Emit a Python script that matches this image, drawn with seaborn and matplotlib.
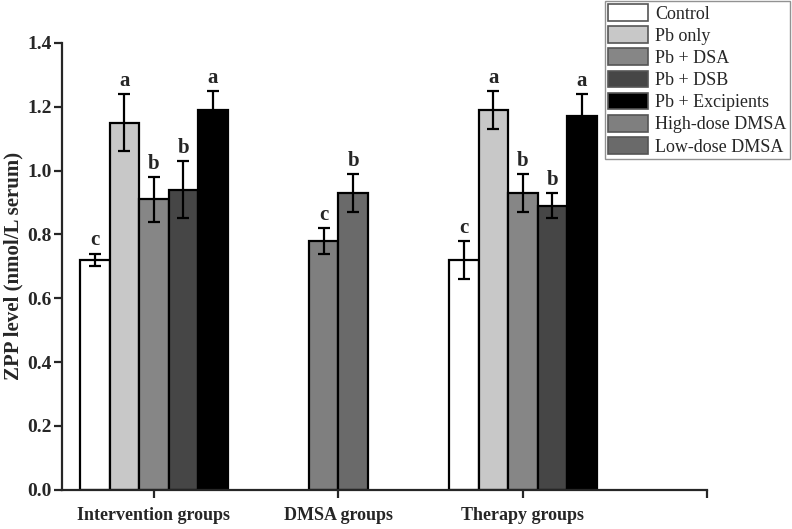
import numpy as np
import pandas as pd
import seaborn as sns
import matplotlib
matplotlib.use("Agg")
import matplotlib.pyplot as plt
from matplotlib.patches import Patch

# data
groups = ["Intervention groups", "DMSA groups", "Therapy groups"]
treatments = ["Control", "Pb only", "Pb + DSA", "Pb + DSB", "Pb + Excipients",
              "High-dose DMSA", "Low-dose DMSA"]
colors = ["#ffffff", "#c8c8c8", "#868686", "#464646", "#000000", "#7f7f7f", "#6a6a6a"]

interv_trt = ["Control", "Pb only", "Pb + DSA", "Pb + DSB", "Pb + Excipients"]
interv_val = [0.72, 1.15, 0.91, 0.94, 1.19]
interv_err = [0.02, 0.09, 0.07, 0.09, 0.06]
interv_sig = ["c", "a", "b", "b", "a"]

dmsa_trt = ["High-dose DMSA", "Low-dose DMSA"]
dmsa_val = [0.78, 0.93]
dmsa_err = [0.04, 0.06]
dmsa_sig = ["c", "b"]

therapy_trt = ["Control", "Pb only", "Pb + DSA", "Pb + DSB", "Pb + Excipients"]
therapy_val = [0.72, 1.19, 0.93, 0.89, 1.17]
therapy_err = [0.06, 0.06, 0.06, 0.04, 0.07]
therapy_sig = ["c", "a", "b", "b", "a"]

bw = 0.16  # bar width in axis units

rows = []
for gi, (trt, val, err, sig) in enumerate([(interv_trt, interv_val, interv_err, interv_sig),
                                           (dmsa_trt, dmsa_val, dmsa_err, dmsa_sig),
                                           (therapy_trt, therapy_val, therapy_err, therapy_sig)]):
    n = len(trt)
    for i in range(n):
        rows.append({"group": groups[gi], "treatment": trt[i], "value": val[i],
                     "err": err[i], "sig": sig[i],
                     "pos": round(gi + (i - (n - 1) / 2) * bw, 4)})
df = pd.DataFrame(rows)

sns.set_style("ticks")
plt.rcParams["font.family"] = ["Liberation Serif", "DejaVu Serif"]
plt.rcParams["font.weight"] = "bold"

fig = plt.figure(figsize=(7.92, 5.29), dpi=100)
ax = fig.add_axes([0.078, 0.074, 0.815, 0.845])

pal = dict(zip(treatments, colors))
sns.barplot(data=df, x="pos", y="value", hue="treatment", hue_order=treatments,
            palette=pal, native_scale=True, dodge=False, width=1.0, errorbar=None,
            edgecolor="black", linewidth=1.6, legend=False, saturation=1, ax=ax)

ax.errorbar(df["pos"], df["value"], yerr=df["err"], fmt="none", ecolor="black",
            elinewidth=1.6, capsize=4, capthick=1.6)
for _, r in df.iterrows():
    ax.text(r["pos"], r["value"] + r["err"] + 0.01, r["sig"], ha="center", va="bottom",
            fontsize=15, fontweight="bold")

ax.set_xlim(-0.5, 3.0)
ax.set_ylim(0, 1.4)
ax.set_xticks([0, 1, 2, 3])
ax.set_xticklabels(groups + [""])
ax.set_yticks(np.arange(0, 1.41, 0.2))
ax.set_yticklabels([f"{v:.1f}" for v in np.arange(0, 1.41, 0.2)])
ax.tick_params(axis="both", direction="out", length=6, width=1.6)
ax.tick_params(axis="x", pad=6, labelsize=13)
ax.tick_params(axis="y", pad=1, labelsize=14)
for lab in ax.get_xticklabels() + ax.get_yticklabels():
    lab.set_fontweight("bold")
ax.set_xlabel("")
ax.set_ylabel("ZPP level (nmol/L serum)", fontsize=15, fontweight="bold")
ax.yaxis.set_label_coords(-0.060, 0.5)
sns.despine(ax=ax)
for s in ["left", "bottom"]:
    ax.spines[s].set_linewidth(1.6)

handles = [Patch(facecolor=c, edgecolor="#555555", linewidth=1.2) for c in colors]
leg = fig.legend(handles, treatments, loc="upper right", bbox_to_anchor=(0.998, 0.999),
                 frameon=True, fancybox=False, edgecolor="#777777",
                 prop={"family": "Liberation Serif", "weight": "normal", "size": 13},
                 handlelength=2.2, handleheight=1.05, handletextpad=0.4,
                 labelspacing=0.2, borderpad=0.2, borderaxespad=0.0)
leg.get_frame().set_linewidth(1.0)

fig.savefig("out.png", dpi=100)
